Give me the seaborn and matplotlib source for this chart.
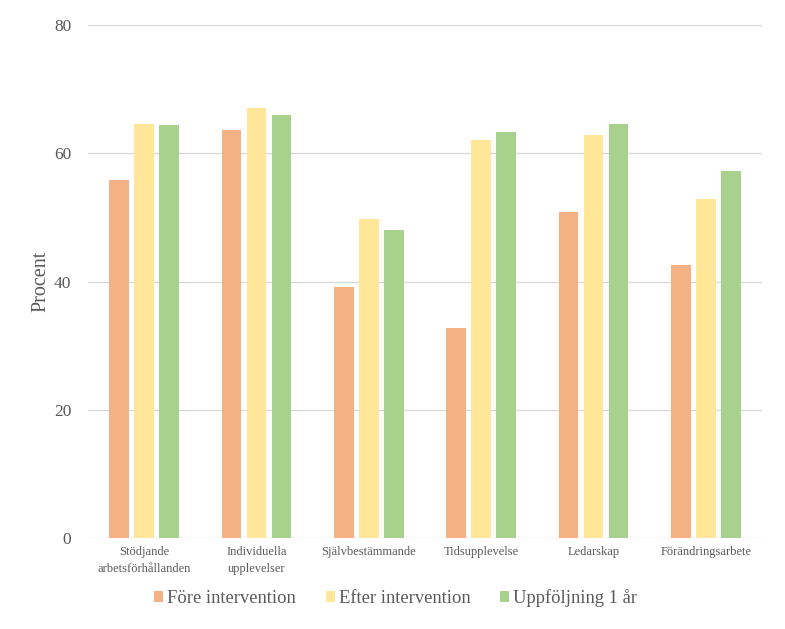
import matplotlib
matplotlib.use("Agg")
import matplotlib.pyplot as plt
import seaborn as sns
import pandas as pd

categories = ["Stödjande\narbetsförhållanden", "Individuella\nupplevelser", "Självbestämmande",
              "Tidsupplevelse", "Ledarskap", "Förändringsarbete"]
series_names = ["Före intervention", "Efter intervention", "Uppföljning 1 år"]
fore = [55.9, 63.7, 39.1, 32.8, 50.8, 42.6]
efter = [64.6, 67.0, 49.7, 62.1, 62.8, 52.9]
uppfoljning = [64.4, 66.0, 48.0, 63.3, 64.5, 57.3]
yticks = [0, 20, 40, 60, 80]
colors = ["#F4B183", "#FFE699", "#A9D18E"]

rows = []
for name, vals in zip(series_names, [fore, efter, uppfoljning]):
    for c, v in zip(categories, vals):
        rows.append({"Kategori": c, "Serie": name, "Procent": v})
df = pd.DataFrame(rows)

sns.set_theme(style="white")
plt.rcParams["font.family"] = ["Liberation Serif", "DejaVu Serif"]
txt = "#595959"

fig = plt.figure(figsize=(7.85, 6.29), dpi=100)
ax = fig.add_axes([88 / 785, (629 - 538) / 629, (762 - 88) / 785, (538 - 25) / 629])

sns.barplot(data=df, x="Kategori", y="Procent", hue="Serie", order=categories,
            hue_order=series_names, palette=colors, width=0.668, gap=0.22,
            saturation=1, linewidth=0, ax=ax, legend=True)

ax.set_ylim(0, 80)
ax.set_xlim(-0.5, len(categories) - 0.5)
ax.set_yticks(yticks)
ax.set_yticklabels([str(t) for t in yticks])
ax.yaxis.grid(True, color="#D9D9D9", linewidth=1.0)
ax.set_axisbelow(True)
for s in ["top", "right", "left", "bottom"]:
    ax.spines[s].set_visible(False)
ax.tick_params(axis="y", length=0, pad=12, labelsize=12.5, labelcolor=txt)
ax.tick_params(axis="x", length=0, pad=6, labelsize=9, labelcolor=txt)
for lab in ax.get_xticklabels():
    lab.set_linespacing(1.55)
ax.set_xlabel("")
ax.set_ylabel("Procent", fontsize=14.5, color=txt, labelpad=2.5)

handles, labels = ax.get_legend_handles_labels()
ax.get_legend().remove()
fig.legend(handles, labels, loc="center", bbox_to_anchor=(0.504, (629 - 598) / 629),
           ncol=3, frameon=False, fontsize=13.3, labelcolor=txt,
           handlelength=0.5, handleheight=0.5, handletextpad=0.22, columnspacing=1.6)

fig.savefig("out.png", dpi=100)
